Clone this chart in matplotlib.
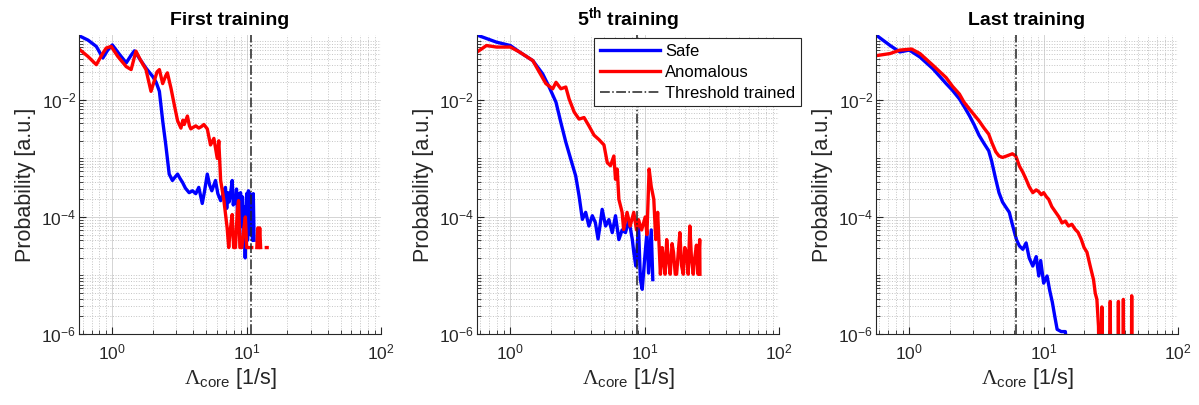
#!/usr/bin/env python3
"""
Distribuciones de probabilidad de Lambda_core para casos seguros y
anomalos en tres etapas del entrenamiento, con el umbral entrenado.
"""

import numpy as np
import matplotlib.pyplot as plt
from matplotlib.ticker import LogLocator, FixedLocator, NullFormatter

plt.rcParams['font.family'] = ['Liberation Sans', 'DejaVu Sans']
plt.rcParams['mathtext.fontset'] = 'custom'
plt.rcParams['mathtext.rm'] = 'Liberation Sans'
plt.rcParams['mathtext.it'] = 'Liberation Sans:italic'
plt.rcParams['mathtext.bf'] = 'Liberation Sans:bold'
# Lambda con serifa, como en la figura original
plt.rcParams['mathtext.sf'] = 'Liberation Serif'

TITLES = ['First training', r'5$^{\mathbf{th}}$ training', 'Last training']
THRESHOLDS = [10.8, 8.8, 6.2]
SERIES_NAMES = ['Safe', 'Anomalous']
THRESHOLD_NAME = 'Threshold trained'

# (Lambda_core [1/s], probabilidad); nan = hueco sin cuentas
first_safe = [
    (0.565, 0.125), (0.66, 0.105), (0.76, 0.082), (0.85, 0.052), (0.92, 0.07),
    (1.0, 0.087), (1.13, 0.06), (1.27, 0.043), (1.38, 0.058), (1.46, 0.069),
    (1.6, 0.05), (1.78, 0.035), (2.0, 0.025), (2.12, 0.02), (2.24, 0.014),
    (2.37, 0.0044), (2.5, 0.0017), (2.65, 5.4e-4), (2.8, 4.2e-4), (2.93, 4.8e-4),
    (3.06, 5.4e-4), (3.2, 4.5e-4), (3.33, 3.9e-4), (3.5, 3.1e-4), (3.73, 2.6e-4),
    (3.95, 2.8e-4), (4.18, 2.5e-4), (4.4, 3.2e-4), (4.67, 1.7e-4), (4.85, 2.7e-4),
    (5.09, 5.4e-4), (5.3, 3.5e-4), (5.5, 2.8e-4), (5.86, 4.2e-4), (6.1, 2.5e-4),
    (6.4, 1.9e-4), (6.65, 2.4e-4), (6.95, 3.2e-4), (7.1, 1.4e-4), (7.25, 2.6e-4),
    (7.4, 1.8e-4), (7.6, 2.6e-4), (7.8, 4.2e-4), (7.95, 1.6e-4), (8.1, 2.2e-4),
    (8.25, 1.7e-4), (8.4, 3e-4), (8.55, 1.1e-4), (8.7, 2.5e-4), (8.85, 1.2e-4),
    (9.0, 2.6e-4), (9.15, 7e-5), (9.3, 2.2e-4), (9.45, 4e-5), (9.6, 1.5e-4),
    (9.75, 2e-5), (9.9, 1.2e-4), (10.0, 2.5e-4), (10.15, 4e-5), (10.3, 2.8e-4),
    (10.45, 5e-5), (10.6, 2.5e-4), (10.75, 5e-5), (10.9, 2.4e-4), (11.05, 4e-5),
    (11.2, 2.5e-4), (11.35, 4e-5),
]
first_anom = [
    (0.565, 0.074), (0.66, 0.055), (0.76, 0.040), (0.84, 0.06), (0.90, 0.077),
    (0.98, 0.082), (1.1, 0.055), (1.27, 0.037), (1.38, 0.033), (1.5, 0.068),
    (1.62, 0.048), (1.78, 0.033), (1.94, 0.014), (2.05, 0.021), (2.15, 0.03),
    (2.24, 0.033), (2.37, 0.019), (2.5, 0.026), (2.57, 0.029), (2.73, 0.016),
    (2.89, 0.0083), (3.06, 0.0044), (3.24, 0.0033), (3.35, 0.0045), (3.43, 0.0038),
    (3.62, 0.0053), (3.75, 0.0036), (3.84, 0.0032), (4.0, 0.0034), (4.18, 0.0036),
    (4.4, 0.0033), (4.6, 0.0035), (4.8, 0.0038), (5.09, 0.0032), (5.38, 0.0017),
    (5.7, 0.0022), (6.04, 0.001), (6.2, 0.002), (6.4, 4.2e-4), (6.77, 1.9e-4),
    (7.15, 6.6e-5), (7.35, 3e-5), (7.55, 6e-5), (7.8, 1.1e-4), (8.0, 3e-5),
    (8.25, 3e-5), (8.5, 1.2e-4), (8.7, 1.9e-4), (8.9, 3e-5), (9.2, 3e-5),
    (9.5, 6e-5), (9.78, 1e-4), (10.0, 3e-5), (10.3, 3e-5), (10.6, 3e-5),
    (10.9, 3e-5), (11.2, np.nan), (11.9, 3e-5), (12.1, 6.5e-5), (12.3, 3e-5),
    (12.5, 6.5e-5), (12.7, 3e-5), (13.5, np.nan), (14.0, 3e-5), (14.2, 3e-5),
]
fifth_safe = [
    (0.567, 0.128), (0.79, 0.097), (1.0, 0.085), (1.17, 0.066), (1.47, 0.047),
    (1.74, 0.028), (1.95, 0.0165), (2.19, 0.0091), (2.38, 0.0041), (2.59, 0.0019),
    (2.82, 9.7e-4), (3.07, 5e-4), (3.25, 2.3e-4), (3.44, 9.1e-5), (3.64, 1.2e-4),
    (3.85, 7e-5), (4.08, 1.05e-4), (4.3, 8e-5), (4.5, 4.2e-5), (4.65, 7e-5),
    (4.83, 1.35e-4), (5.12, 7e-5), (5.42, 9e-5), (5.74, 5.4e-5), (6.07, 1.05e-4),
    (6.43, 4.1e-5), (6.8, 6e-5), (7.2, 5.4e-5), (7.63, 9e-5), (8.1, 4.1e-5),
    (8.3, 2.5e-5), (8.6, 1.45e-5), (9.0, 7e-5), (9.3, 8.5e-6), (9.6, 5.8e-6),
    (10.0, 1.9e-5), (10.4, 5.4e-5), (10.7, 1.1e-5), (11.2, 6e-5), (11.5, 8.5e-6),
]
fifth_anom = [
    (0.567, 0.066), (0.665, 0.085), (0.79, 0.080), (1.0, 0.080), (1.17, 0.066),
    (1.47, 0.047), (1.84, 0.019), (2.07, 0.0155), (2.19, 0.020), (2.38, 0.0155),
    (2.59, 0.0166), (2.74, 0.0104), (2.99, 0.0062), (3.25, 0.0047), (3.54, 0.005),
    (3.85, 0.0036), (4.2, 0.0025), (4.57, 0.0021), (4.98, 0.0017), (5.27, 8.5e-4),
    (5.57, 7.5e-4), (5.9, 0.0011), (6.07, 4.4e-4), (6.25, 6.6e-4), (6.43, 2e-4),
    (6.8, 1.2e-4), (6.98, 6.1e-5), (7.4, 1.2e-4), (7.8, 7e-5), (8.3, 1.2e-4),
    (8.7, 6e-5), (9.0, 9e-5), (9.5, 6e-5), (10.1, 1e-4), (10.4, 5e-5),
    (10.8, 6.6e-4), (11.2, 3.3e-4), (11.7, 2e-4), (12.1, 4.1e-5), (12.5, 1.2e-4),
    (13.1, 1.05e-5), (13.5, 3e-5), (13.8, 1.9e-5), (14.2, 1.05e-5), (14.6, 4.1e-5),
    (15.0, 2e-5), (15.5, 1.05e-5), (16.0, 3.5e-5), (16.4, 2.5e-5), (16.9, 1.05e-5),
    (17.3, 1.05e-5), (17.8, 2.5e-5), (18.3, 5.4e-5), (18.8, 1.5e-5), (19.4, 1.05e-5),
    (19.9, 3e-5), (20.5, 2.5e-5), (21.1, 1.05e-5), (21.7, 7e-5), (22.3, 2e-5),
    (23.0, 1.05e-5), (23.6, 2e-5), (24.3, 3.3e-5), (25.0, 1.05e-5), (25.7, 4.1e-5),
    (25.8, 1.05e-5),
]
last_safe = [
    (0.567, 0.128), (0.72, 0.085), (0.85, 0.066), (1.0, 0.071), (1.2, 0.054),
    (1.5, 0.034), (1.88, 0.019), (2.1, 0.0145), (2.36, 0.0104), (2.55, 0.0078),
    (2.8, 0.0054), (3.05, 0.0037), (3.3, 0.0025), (3.6, 0.0018), (3.9, 0.00135),
    (4.1, 9e-4), (4.4, 4.4e-4), (4.65, 2.6e-4), (4.94, 1.8e-4), (5.2, 1.5e-4),
    (5.55, 1.2e-4), (5.8, 8e-5), (6.07, 5.4e-5), (6.3, 4e-5), (6.6, 3.2e-5),
    (7.0, 2.8e-5), (7.4, 3.6e-5), (7.8, 2e-5), (8.3, 1.45e-5), (8.8, 2.1e-5),
    (9.2, 9.8e-6), (9.5, 1.8e-5), (10.0, 7.4e-6), (10.6, 9.8e-6), (11.1, 5.5e-6),
    (11.6, 3.5e-6), (12.1, 2e-6), (12.6, 1.2e-6), (13.5, 1.1e-6), (14.5, 1.1e-6),
    (15.0, 5e-7),
]
last_anom = [
    (0.567, 0.057), (0.72, 0.062), (0.85, 0.071), (1.04, 0.074), (1.2, 0.062),
    (1.5, 0.039), (1.88, 0.024), (2.1, 0.017), (2.36, 0.0126), (2.55, 0.0092),
    (2.8, 0.0070), (3.05, 0.0055), (3.3, 0.0044), (3.6, 0.0033), (3.9, 0.0026),
    (4.1, 0.0019), (4.4, 0.0013), (4.65, 0.0011), (4.94, 0.00104), (5.3, 0.0011),
    (5.85, 0.0012), (6.2, 0.0011), (6.6, 7.4e-4), (7.0, 5.8e-4), (7.4, 4.4e-4),
    (7.8, 3.3e-4), (8.3, 2.6e-4), (8.8, 2.9e-4), (9.2, 2.7e-4), (9.6, 2.4e-4),
    (10.0, 2.6e-4), (10.5, 2.2e-4), (10.9, 2e-4), (11.5, 1.5e-4), (12.3, 1.2e-4),
    (13.0, 1e-4), (13.7, 7.9e-5), (14.5, 8.5e-5), (15.3, 7e-5), (16.2, 7.5e-5),
    (17.2, 6.1e-5), (18.0, 5.5e-5), (19.0, 4.2e-5), (20.0, 3e-5), (21.0, 2.5e-5),
    (22.2, 1.45e-5), (23.5, 8.5e-6), (24.2, 5e-6), (24.9, 3.9e-6), (25.6, 1.35e-6),
    (26.3, 1e-8), (26.8, 1e-8), (27.1, 2.9e-6), (27.4, 1e-8), (30.9, 1e-8),
    (31.3, 3.6e-6), (31.7, 1e-8), (35.6, 1e-8), (36.0, 3.6e-6), (36.4, 1e-8),
    (38.8, 1e-8), (39.2, 3.9e-6), (39.6, 1e-8), (44.8, 1e-8), (45.2, 4.5e-6),
    (45.6, 1e-8),
]

PANELS = [(first_safe, first_anom), (fifth_safe, fifth_anom), (last_safe, last_anom)]

# posiciones de los ejes en fraccion de figura
AX_LEFTS = [0.0659, 0.3978, 0.7306]
AX_BOTTOM = 0.1753
AX_WIDTH = 0.2519
AX_HEIGHT = 0.738

TEXT_COLOR = '#262626'


def style_axes(ax):
    ax.set_xscale('log')
    ax.set_yscale('log')
    ax.set_xlim(0.565, 100)
    ax.set_ylim(1e-6, 0.128)
    ax.yaxis.set_major_locator(FixedLocator([1e-6, 1e-4, 1e-2]))
    ax.yaxis.set_minor_locator(LogLocator(base=10, subs=np.arange(1, 10), numticks=30))
    ax.yaxis.set_minor_formatter(NullFormatter())
    ax.xaxis.set_major_locator(FixedLocator([1, 10, 100]))
    ax.xaxis.set_minor_locator(LogLocator(base=10, subs=np.arange(2, 10), numticks=30))
    ax.xaxis.set_minor_formatter(NullFormatter())
    ax.grid(True, which='major', color='#d4d4d4', lw=0.7, ls='-')
    ax.grid(True, which='minor', color='#c4c4c4', lw=0.7, ls=':')
    ax.set_axisbelow(True)
    for side in ('top', 'right'):
        ax.spines[side].set_visible(False)
    for side in ('left', 'bottom'):
        ax.spines[side].set_color(TEXT_COLOR)
        ax.spines[side].set_linewidth(0.8)
    ax.tick_params(which='both', direction='in', colors=TEXT_COLOR, labelsize=12.5)
    ax.tick_params(which='major', length=5)
    ax.tick_params(which='minor', length=3)
    ax.tick_params(axis='x', pad=6)
    ax.tick_params(axis='y', pad=2)


def main():
    fig = plt.figure(figsize=(11.99, 4.05), dpi=100)
    for i, (safe, anom) in enumerate(PANELS):
        ax = fig.add_axes([AX_LEFTS[i], AX_BOTTOM, AX_WIDTH, AX_HEIGHT])
        style_axes(ax)
        sx, sy = np.array(safe).T
        rx, ry = np.array(anom).T
        ax.plot(sx, sy, color='#0000ff', lw=2.4, label=SERIES_NAMES[0])
        ax.plot(rx, ry, color='#ff0000', lw=2.4, label=SERIES_NAMES[1])
        ax.axvline(THRESHOLDS[i], color='#222222', ls='-.', lw=1.1, label=THRESHOLD_NAME)
        ax.set_title(TITLES[i], fontsize=14, fontweight='bold', pad=7)
        ax.set_ylabel('Probability [a.u.]', fontsize=15.5, color=TEXT_COLOR, labelpad=4)
        ax.set_xlabel(r'$\mathsf{\Lambda}_{\mathrm{core}}$ [1/s]', fontsize=15.5,
                      color=TEXT_COLOR, labelpad=3)
        if i == 1:
            leg = ax.legend(loc='upper left', bbox_to_anchor=(594 / 1199, 1 - 38 / 405),
                            bbox_transform=fig.transFigure, fontsize=12,
                            fancybox=False, framealpha=1, edgecolor=TEXT_COLOR,
                            handlelength=3.6, handletextpad=0.3, borderpad=0.35,
                            labelspacing=0.35, borderaxespad=0)
            leg.get_frame().set_linewidth(0.8)

    fig.savefig('out.png', dpi=100)
    print("Figura guardada en 'out.png'.")


if __name__ == "__main__":
    main()
